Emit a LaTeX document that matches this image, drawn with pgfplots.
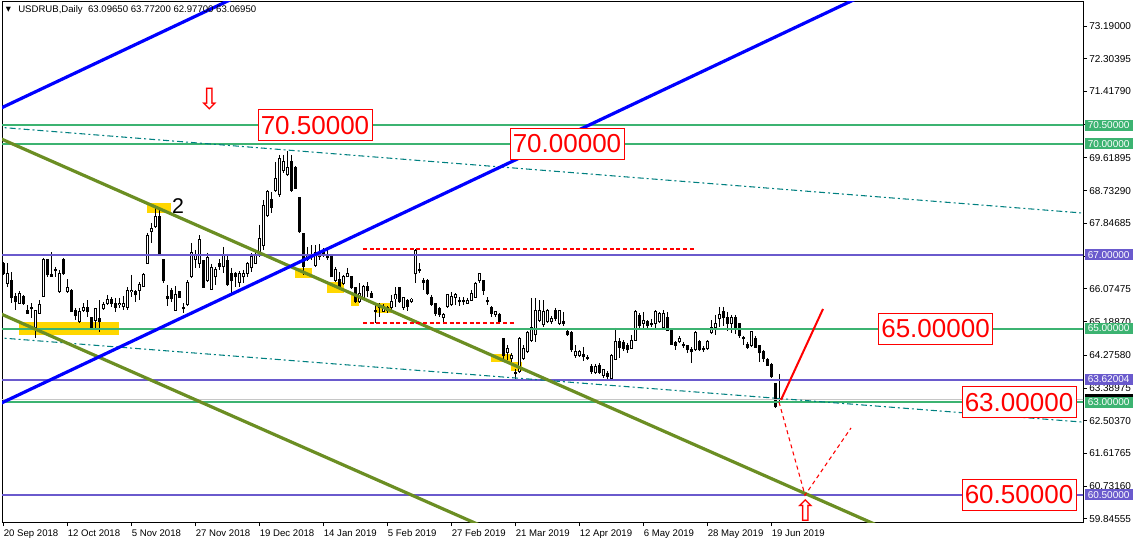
\documentclass[border=0pt]{standalone}
\usepackage{pgfplots}
\pgfplotsset{compat=1.18}
\usepackage{pgfplotstable}
\usepackage{fontspec}
\setmainfont{Liberation Sans}
\newfontfamily\dejavu{DejaVu Sans}

\definecolor{lvlgreen}{RGB}{60,179,113}
\definecolor{lvlpurple}{RGB}{106,90,205}
\definecolor{trendolive}{RGB}{107,142,35}
\definecolor{chteal}{RGB}{0,128,128}
\definecolor{boxgold}{RGB}{255,215,0}
\definecolor{mtred}{RGB}{255,0,0}

% daily candles: bar index, open, high, low, close
\pgfplotstableread{
i o h l c
0 66.75 66.80 66.45 66.50
1 66.23 66.77 66.12 66.50
2 66.31 66.53 65.69 65.83
3 65.86 65.96 65.50 65.72
4 65.69 66.02 65.66 65.94
5 65.86 65.91 65.64 65.69
6 65.50 65.64 65.39 65.42
7 65.56 65.69 65.29 65.53
8 65.02 65.50 64.74 65.50
9 65.42 65.77 65.39 65.64
10 65.88 66.91 65.88 66.88
11 66.86 66.88 66.40 66.45
12 66.45 67.07 66.40 66.42
13 66.61 66.67 66.40 66.56
14 65.99 66.59 65.96 66.48
15 66.88 66.91 66.45 66.48
16 66.01 66.34 65.96 66.10
17 66.04 66.07 65.45 65.47
18 65.50 65.56 65.23 65.34
19 65.18 65.56 65.15 65.47
20 65.50 65.69 65.45 65.58
21 65.58 65.77 65.31 65.45
22 65.31 65.31 65.01 65.04
23 65.23 65.56 64.96 65.53
24 65.26 65.77 64.91 65.18
25 65.53 65.72 65.50 65.64
26 65.69 65.91 65.64 65.80
27 65.80 65.85 65.58 65.69
28 65.69 65.83 65.45 65.58
29 65.64 65.83 65.56 65.69
30 65.61 65.88 65.50 65.69
31 65.58 66.12 65.50 66.04
32 65.99 66.45 65.85 66.04
33 65.99 66.04 65.72 65.91
34 66.04 66.26 65.77 66.18
35 66.15 66.50 66.12 66.45
36 66.77 67.59 66.75 67.51
37 67.64 67.86 67.32 67.70
38 67.75 68.26 67.72 68.02
39 68.02 68.26 66.99 67.02
40 66.86 66.88 66.23 66.29
41 65.86 66.18 65.61 65.80
42 66.04 66.10 65.72 65.80
43 65.50 66.15 65.50 65.91
44 65.99 66.02 65.83 65.85
45 65.56 65.69 65.42 65.53
46 65.64 66.31 65.61 66.26
47 66.40 67.32 66.37 67.07
48 66.88 67.13 66.64 66.99
49 66.75 67.53 66.64 67.40
50 66.83 66.86 66.10 66.12
51 66.29 67.05 66.26 66.91
52 66.07 66.75 66.04 66.64
53 66.40 66.67 66.18 66.59
54 66.75 66.88 66.59 66.69
55 66.67 67.21 66.50 66.99
56 66.83 67.02 66.15 66.18
57 66.50 66.64 65.96 66.29
58 66.48 66.53 66.12 66.40
59 66.26 66.56 66.12 66.50
60 66.40 66.59 66.23 66.50
61 66.50 66.80 66.40 66.77
62 66.64 67.05 66.53 66.94
63 66.77 67.13 66.75 66.99
64 66.99 67.81 66.94 67.45
65 67.24 68.48 67.13 68.32
66 68.05 68.75 68.02 68.70
67 68.48 68.70 68.13 68.29
68 68.75 69.51 68.70 69.05
69 68.62 69.70 68.56 69.59
70 69.27 69.70 69.21 69.51
71 69.16 69.81 69.13 69.35
72 69.51 69.70 68.70 68.75
73 69.35 69.40 68.78 68.80
74 68.56 68.56 67.59 67.62
75 67.56 67.56 66.45 66.67
76 66.88 67.21 66.83 66.99
77 66.94 67.26 66.86 66.99
78 66.72 67.26 66.67 67.07
79 66.94 67.29 66.86 67.07
80 67.10 67.18 66.94 66.99
81 66.99 67.13 66.86 66.91
82 66.94 66.96 66.40 66.40
83 66.31 66.67 66.26 66.59
84 66.34 66.53 66.10 66.12
85 66.23 66.45 66.18 66.40
86 66.40 66.64 66.40 66.50
87 66.40 66.42 66.07 66.10
88 66.10 66.12 65.69 65.72
89 65.72 66.23 65.69 65.96
90 65.83 66.18 65.80 66.15
91 66.15 66.26 65.85 66.02
92 65.96 66.02 65.85 65.85
93 65.50 65.69 65.15 65.45
94 65.58 65.69 65.31 65.56
95 65.47 65.66 65.45 65.61
96 65.56 65.61 65.42 65.50
97 65.58 65.91 65.50 65.72
98 65.80 66.12 65.58 65.91
99 66.10 66.10 65.69 65.72
100 65.58 65.85 65.50 65.83
101 65.75 65.80 65.47 65.61
102 65.72 65.83 65.69 65.80
103 66.48 67.16 66.23 67.10
104 66.61 66.77 66.50 66.56
105 66.29 66.37 66.04 66.26
106 66.29 66.34 65.91 65.94
107 65.85 65.91 65.61 65.66
108 65.69 65.69 65.34 65.42
109 65.53 65.58 65.31 65.39
110 65.31 65.42 65.15 65.39
111 65.61 65.94 65.56 65.91
112 65.64 65.99 65.61 65.88
113 65.85 65.96 65.64 65.91
114 65.77 65.85 65.61 65.72
115 65.77 65.85 65.64 65.72
116 65.69 65.83 65.66 65.77
117 65.77 66.04 65.75 65.96
118 65.85 66.26 65.83 66.23
119 66.29 66.50 66.23 66.48
120 66.29 66.31 65.91 66.04
121 65.75 65.85 65.64 65.72
122 65.58 65.61 65.31 65.42
123 65.39 65.47 65.31 65.47
124 65.39 65.42 65.12 65.18
125 64.72 64.72 64.09 64.28
126 64.34 64.55 64.15 64.47
127 64.18 64.34 64.09 64.28
128 63.80 63.91 63.64 63.77
129 63.83 64.77 63.80 64.74
130 64.20 64.55 64.15 64.47
131 64.37 64.93 64.34 64.88
132 64.69 65.83 64.64 65.02
133 64.83 65.83 64.64 65.50
134 65.23 65.77 65.18 65.50
135 65.10 65.77 65.05 65.45
136 65.18 65.53 65.15 65.48
137 65.18 65.34 65.12 65.26
138 65.48 65.56 65.20 65.26
139 65.15 65.48 65.10 65.48
140 65.18 65.45 65.07 65.15
141 64.93 65.00 64.80 64.83
142 64.88 64.93 64.37 64.42
143 64.26 64.55 64.20 64.39
144 64.26 64.42 64.23 64.39
145 64.31 64.50 64.12 64.23
146 64.23 64.28 64.15 64.20
147 63.96 64.04 63.77 63.85
148 63.80 64.04 63.77 63.96
149 64.01 64.07 63.77 63.80
150 63.74 63.91 63.66 63.88
151 63.77 63.85 63.63 63.69
152 63.66 64.31 63.63 64.26
153 64.17 65.02 64.15 64.66
154 64.64 64.74 64.20 64.50
155 64.61 64.69 64.39 64.47
156 64.55 64.61 64.34 64.42
157 64.47 64.83 64.45 64.69
158 64.69 65.50 64.66 65.45
159 65.34 65.42 65.02 65.07
160 65.15 65.45 64.99 65.23
161 65.18 65.23 65.02 65.07
162 65.15 65.26 65.05 65.10
163 65.15 65.50 64.96 65.45
164 65.18 65.45 65.15 65.42
165 65.02 65.50 64.99 65.42
166 65.31 65.45 64.93 64.96
167 64.96 64.96 64.55 64.58
168 64.61 64.66 64.42 64.55
169 64.64 64.80 64.61 64.74
170 64.58 64.64 64.47 64.53
171 64.55 64.55 64.34 64.42
172 64.42 64.50 64.07 64.37
173 64.42 64.93 64.39 64.88
174 64.64 64.69 64.39 64.42
175 64.47 64.53 64.37 64.42
176 64.45 64.69 64.42 64.64
177 64.88 65.23 64.85 65.04
178 65.04 65.37 64.83 65.15
179 65.26 65.59 65.05 65.37
180 65.45 65.59 65.07 65.29
181 65.31 65.45 64.93 65.15
182 65.15 65.37 64.88 65.29
183 65.29 65.37 64.85 65.02
184 65.15 65.15 64.74 64.80
185 64.77 64.80 64.56 64.72
186 64.58 64.64 64.45 64.50
187 64.53 64.93 64.50 64.91
188 64.74 64.80 64.47 64.50
189 64.53 64.55 64.09 64.34
190 64.37 64.42 64.09 64.20
191 64.17 64.20 63.99 64.01
192 64.04 64.07 63.66 63.69
193 63.50 63.53 62.85 62.88
194 63.0965 63.772 62.977 63.0695
}\candles

\begin{document}
\begin{tikzpicture}
\path[use as bounding box] (0,0) rectangle (850.5bp,408bp);
\begin{axis}[
    at={(1.5bp,16.5bp)}, anchor=south west,
    scale only axis, width=810.75bp, height=390bp,
    xmin=-0.4, xmax=269.85, ymin=59.7635, ymax=73.8399,
    clip mode=individual,
    axis line style={black, line width=0.75bp},
    /pgf/number format/assume math mode=true,
    tick align=outside, major tick length=3bp,
    tick style={black, line width=0.75bp},
    xtick pos=bottom, ytick pos=right, yticklabel pos=right,
    xtick={0,16,...,192},
    xticklabels={20 Sep 2018, 12 Oct 2018, 5 Nov 2018, 27 Nov 2018, 19 Dec 2018, 14 Jan 2019, 5 Feb 2019, 27 Feb 2019, 21 Mar 2019, 12 Apr 2019, 6 May 2019, 28 May 2019, 19 Jun 2019},
    xticklabel style={anchor=north west, inner sep=0pt, yshift=-2.5bp, font=\fontsize{7.2bp}{8bp}\selectfont},
    ytick={73.19,72.30395,71.4179,70.53185,69.61895,68.7329,67.84685,66.9608,66.07475,65.1887,64.2758,63.38975,62.5037,61.61765,60.7316,59.84555},
    yticklabels={73.19000,72.30395,71.41790,70.53185,69.61895,68.73290,67.84685,66.96080,66.07475,65.18870,64.27580,63.38975,62.50370,61.61765,60.73160,59.84555},
    yticklabel style={anchor=west, inner sep=0pt, xshift=1.5bp, font=\fontsize{7.5bp}{8bp}\selectfont},
]
% zones
\addplot[fill=boxgold, draw=none] coordinates {(3.85,65.18) (28.85,65.18) (28.85,64.83) (3.85,64.83)};
\addplot[fill=boxgold, draw=none] coordinates {(35.85,68.40) (41.85,68.40) (41.85,68.13) (35.85,68.13)};
\addplot[fill=boxgold, draw=none] coordinates {(72.85,66.64) (77.1,66.64) (77.1,66.37) (72.85,66.37)};
\addplot[fill=boxgold, draw=none] coordinates {(80.85,66.26) (85.1,66.26) (85.1,65.96) (80.85,65.96)};
\addplot[fill=boxgold, draw=none] coordinates {(86.85,65.94) (88.85,65.94) (88.85,65.61) (86.85,65.61)};
\addplot[fill=boxgold, draw=none] coordinates {(92.85,65.69) (97.1,65.69) (97.1,65.42) (92.85,65.42)};
\addplot[fill=boxgold, draw=none] coordinates {(121.85,64.31) (126.85,64.31) (126.85,64.09) (121.85,64.09)};
\addplot[fill=boxgold, draw=none] coordinates {(126.85,64.09) (129.6,64.09) (129.6,63.85) (126.85,63.85)};

% candles: wicks, bodies, hollow inside of rising bars
\addplot[draw=none, error bars/.cd, y dir=minus, y explicit, error mark=none,
    error bar style={draw=black, line width=0.75bp}]
    table[x=i, y=h, y error minus expr=\thisrow{h}-\thisrow{l}] {\candles};
\addplot[draw=none, error bars/.cd, y dir=plus, y explicit, error mark=none,
    error bar style={draw=black, line width=2.25bp}]
    table[x=i, y expr={min(\thisrow{o},\thisrow{c})-0.0135}, y error plus expr={abs(\thisrow{o}-\thisrow{c})+0.027}] {\candles};
\addplot[draw=none, error bars/.cd, y dir=plus, y explicit, error mark=none,
    error bar style={draw=white, line width=0.75bp}]
    table[x=i, y expr={\thisrow{o}+0.0135}, y error plus expr={max(\thisrow{c}-\thisrow{o}-0.027,0)}] {\candles};

% levels
\addplot[gray!45, line width=0.75bp] coordinates {(-1,63.0695) (271,63.0695)};
\addplot[lvlgreen, line width=1.5bp] coordinates {(-1,70.5) (271,70.5)};
\addplot[lvlgreen, line width=1.5bp] coordinates {(-1,70.0) (271,70.0)};
\addplot[lvlgreen, line width=1.5bp] coordinates {(-1,65.0) (271,65.0)};
\addplot[lvlgreen, line width=1.5bp] coordinates {(-1,63.0) (271,63.0)};
\addplot[lvlpurple, line width=1.5bp] coordinates {(-1,67.0) (271,67.0)};
\addplot[lvlpurple, line width=1.5bp] coordinates {(-1,63.62004) (271,63.62004)};
\addplot[lvlpurple, line width=1.5bp] coordinates {(-1,60.5) (271,60.5)};

% channels
\addplot[chteal, line width=0.8bp, dash pattern=on 4.5bp off 2.25bp on 1.5bp off 2.25bp] coordinates {(-2,70.457) (270,68.125)};
\addplot[chteal, line width=0.8bp, dash pattern=on 4.5bp off 2.25bp on 1.5bp off 2.25bp] coordinates {(-2,64.757) (270,62.466)};
\addplot[trendolive, line width=2.4bp] coordinates {(-2,70.20) (225,59.36)};
\addplot[trendolive, line width=2.4bp] coordinates {(-2,65.459) (130,59.156)};
\addplot[blue, line width=2.4bp] coordinates {(-2,62.91) (220,74.28)};
\addplot[blue, line width=2.4bp] coordinates {(-2,70.90) (60,74.07)};

% red marks
\addplot[mtred, line width=1bp, dash pattern=on 3bp off 2bp] coordinates {(89.85,65.15) (127.85,65.15)};
\addplot[mtred, line width=1.1bp, dash pattern=on 3bp off 2bp] coordinates {(89.85,67.155) (172.85,67.155)};
\addplot[mtred, line width=1.5bp] coordinates {(194.35,63.07) (204.85,65.53)};
\addplot[mtred, line width=0.8bp, dash pattern=on 3bp off 2.5bp] coordinates {(193.85,63.01) (200.35,60.49) (211.85,62.31)};

\node[anchor=west, inner sep=0pt, font=\fontsize{7.2bp}{8bp}\selectfont] at (axis cs:3.6,73.62) {USDRUB,Daily\ \ 63.09650 63.77200 62.97700 63.06950};
\node[inner sep=0pt, font=\dejavu\fontsize{5bp}{5bp}\selectfont] at (axis cs:1.2,73.64) {▼};
\node[inner sep=0pt, font=\fontsize{16bp}{16bp}\selectfont] at (axis cs:43.6,68.32) {2};
\node[inner sep=0pt, text=mtred, font=\dejavu\fontsize{22bp}{22bp}\selectfont] at (axis cs:51.6,71.21) {⇩};
\node[inner sep=0pt, text=mtred, font=\dejavu\fontsize{22bp}{22bp}\selectfont] at (axis cs:200.6,60.07) {⇧};

\tikzset{rlab/.style={draw=mtred, line width=0.75bp, fill=white, text=mtred, inner sep=0pt,
    minimum width=85.5bp, minimum height=23.25bp, font=\fontsize{19.5bp}{19.5bp}\selectfont}}
\node[rlab] at (axis cs:77.85,70.5) {70.50000};
\node[rlab] at (axis cs:140.85,70.0) {70.00000};
\node[rlab] at (axis cs:232.98,65.0) {65.00000};
\node[rlab] at (axis cs:253.85,63.0) {63.00000};
\node[rlab] at (axis cs:253.85,60.5) {60.50000};

\coordinate (p705) at (axis cs:269.85,70.5);
\coordinate (p700) at (axis cs:269.85,70.0);
\coordinate (p670) at (axis cs:269.85,67.0);
\coordinate (p650) at (axis cs:269.85,65.0);
\coordinate (p636) at (axis cs:269.85,63.62004);
\coordinate (pbid) at (axis cs:269.85,63.0695);
\coordinate (p630) at (axis cs:269.85,63.0);
\coordinate (p605) at (axis cs:269.85,60.5);
\end{axis}
\tikzset{scalebox/.style={anchor=west, inner sep=0pt, text=white, minimum width=36bp,
    minimum height=8.25bp, font=\fontsize{7.5bp}{8bp}\selectfont}}
\node[scalebox, fill=black] at ([xshift=1bp]pbid) {};
\node[scalebox, fill=lvlgreen] at ([xshift=1bp]p705) {70.50000};
\node[scalebox, fill=lvlgreen] at ([xshift=1bp]p700) {70.00000};
\node[scalebox, fill=lvlpurple] at ([xshift=1bp]p670) {67.00000};
\node[scalebox, fill=lvlgreen] at ([xshift=1bp]p650) {65.00000};
\node[scalebox, fill=lvlpurple] at ([xshift=1bp]p636) {63.62004};
\node[scalebox, fill=lvlgreen] at ([xshift=1bp]p630) {63.00000};
\node[scalebox, fill=lvlpurple] at ([xshift=1bp]p605) {60.50000};
\end{tikzpicture}
\end{document}
